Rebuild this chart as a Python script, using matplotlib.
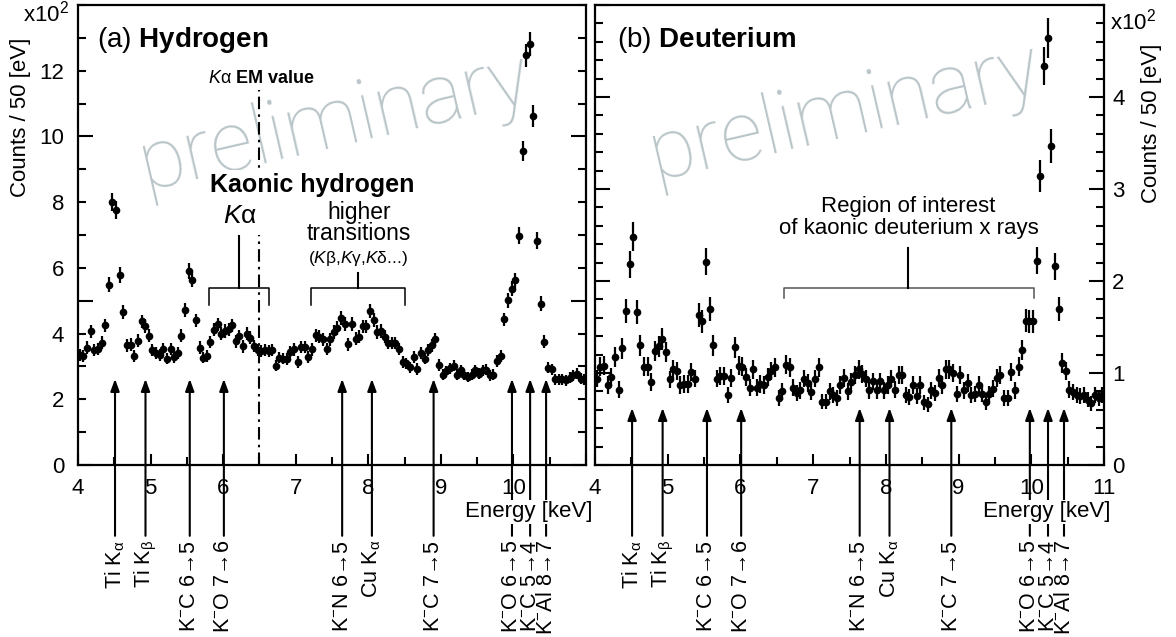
import numpy as np
import matplotlib
matplotlib.use('Agg')
import matplotlib.pyplot as plt
from matplotlib.ticker import MultipleLocator, FuncFormatter

plt.rcParams['font.family'] = ['Liberation Sans', 'DejaVu Sans']
plt.rcParams['mathtext.fontset'] = 'custom'
plt.rcParams['mathtext.rm'] = 'Liberation Sans'
plt.rcParams['mathtext.it'] = 'Liberation Sans:italic'
plt.rcParams['mathtext.bf'] = 'Liberation Sans:bold'

# 50 eV bins from 4 to 11 keV, counts in units of 100
bin_width = 0.05
energy = 4.0 + bin_width / 2 + bin_width * np.arange(140)

hydrogen = [
    3.36, 3.32, 3.57, 4.07, 3.51, 3.54, 3.72, 4.25, 5.49, 8.00,
    7.77, 5.79, 4.66, 3.64, 3.66, 3.31, 3.78, 4.37, 4.23, 3.93,
    3.49, 3.42, 3.36, 3.54, 3.24, 3.54, 3.29, 3.42, 3.93, 4.71,
    5.90, 5.64, 4.40, 3.57, 3.27, 3.31, 3.74, 4.12, 4.28, 4.00,
    4.08, 4.13, 4.25, 3.77, 3.92, 3.61, 4.00, 3.87, 3.62, 3.49,
    3.46, 3.49, 3.46, 3.51, 3.02, 3.27, 3.24, 3.22, 3.44, 3.52,
    3.14, 3.59, 3.59, 3.29, 3.52, 3.95, 3.90, 3.83, 3.54, 3.83,
    4.05, 4.17, 4.47, 4.30, 3.67, 4.30, 3.85, 3.90, 4.22, 4.22,
    4.69, 4.42, 4.05, 4.08, 3.90, 3.72, 3.71, 3.71, 3.54, 3.14,
    3.09, 2.97, 3.29, 2.92, 3.41, 3.24, 3.51, 3.64, 3.83, 3.04,
    2.75, 2.85, 2.94, 3.02, 2.75, 2.88, 2.75, 2.68, 2.75, 2.88,
    2.78, 2.88, 2.90, 2.73, 2.75, 3.16, 3.32, 4.43, 5.01, 5.36,
    5.62, 6.98, 9.55, 12.47, 12.81, 10.62, 6.82, 4.91, 3.75, 2.96,
    2.91, 2.61, 2.61, 2.61, 2.58, 2.66, 2.73, 2.78, 2.63, 2.61,
]

deuterium = [
    0.94, 1.07, 1.08, 0.87, 0.96, 1.17, 0.82, 1.27, 1.67, 2.18,
    2.48, 1.66, 1.30, 1.07, 1.07, 0.90, 1.24, 1.29, 1.37, 1.23,
    0.93, 1.04, 1.02, 0.87, 0.88, 0.88, 1.01, 0.94, 1.63, 1.56,
    2.21, 1.70, 1.30, 0.94, 0.97, 0.97, 0.76, 0.95, 1.28, 1.08,
    1.07, 0.96, 0.84, 1.04, 0.84, 0.88, 0.87, 0.96, 1.02, 1.06,
    0.73, 0.80, 1.09, 1.06, 0.84, 0.78, 0.81, 0.94, 0.89, 0.79,
    0.94, 1.06, 0.69, 0.69, 0.80, 0.76, 0.73, 0.87, 0.95, 0.80,
    0.90, 0.98, 1.04, 0.99, 0.94, 0.81, 0.91, 0.81, 0.91, 0.81,
    0.87, 0.94, 0.82, 0.98, 0.98, 0.76, 0.74, 0.87, 0.75, 0.87,
    0.68, 0.66, 0.81, 0.78, 0.95, 0.87, 1.04, 1.04, 1.00, 0.77,
    0.98, 0.81, 0.89, 0.76, 0.77, 0.87, 0.77, 0.68, 0.77, 0.83,
    0.95, 0.98, 0.73, 0.73, 1.01, 0.81, 1.07, 1.25, 1.57, 1.56,
    1.56, 2.22, 3.14, 4.34, 4.64, 3.47, 2.16, 1.70, 1.11, 1.02,
    0.82, 0.79, 0.76, 0.75, 0.76, 0.71, 0.67, 0.76, 0.73, 0.76,
]

# background / calibration lines
line_names = [r'Ti K$_{\mathrm{\alpha}}$', r'Ti K$_{\mathrm{\beta}}$', r'K$^{-}$C 6→5',
              r'K$^{-}$O 7→6', r'K$^{-}$N 6→5', r'Cu K$_{\mathrm{\alpha}}$',
              r'K$^{-}$C 7→5', r'K$^{-}$O 6→5', r'K$^{-}$C 5→4', r'K$^{-}$Al 8→7']
line_energy = [4.51, 4.93, 5.54, 6.01, 7.64, 8.05, 8.90, 9.98, 10.23, 10.45]

ka_em_value = 6.49
ka_bracket = (5.81, 6.63)
higher_bracket = (7.21, 8.50)
roi_bracket = (6.60, 10.04)

fig = plt.figure(figsize=(11.76, 6.37), dpi=100)
ax1 = fig.add_axes([78 / 1176, 172 / 637, 508 / 1176, 460 / 637])
ax2 = fig.add_axes([595 / 1176, 172 / 637, 509 / 1176, 460 / 637])

wm_color = '#b9c5c9'


def draw_panel(ax, counts, arrow_tip):
    counts = np.array(counts)
    err = np.sqrt(counts * 100) / 100
    ax.errorbar(energy, counts, yerr=err, xerr=bin_width / 2, fmt='o', ms=4.5,
                color='k', elinewidth=1.6, capsize=0, zorder=4)
    ax.set_xlim(4, 11)
    for name, e in zip(line_names, line_energy):
        ax.annotate(name, xy=(e, arrow_tip), xycoords='data',
                    xytext=(e, -0.163), textcoords=('data', 'axes fraction'),
                    rotation=90, ha='center', va='top', fontsize=15.5,
                    annotation_clip=False, zorder=3,
                    arrowprops=dict(arrowstyle='-|>,head_length=0.6,head_width=0.22',
                                    color='k', lw=1.5, shrinkA=1, shrinkB=0,
                                    mutation_scale=12))
    ax.text(1.012, -0.102, 'Energy [keV]', transform=ax.transAxes, ha='right',
            va='center', fontsize=16, zorder=10,
            bbox=dict(fc='white', ec='none', pad=1))
    ax.xaxis.set_major_locator(MultipleLocator(1))
    ax.xaxis.set_minor_locator(MultipleLocator(0.5))
    ax.tick_params(axis='x', which='major', direction='in', length=8, width=1.5,
                   labelsize=16, pad=9, top=False)
    ax.tick_params(axis='x', which='minor', direction='in', length=6, width=1.5,
                   top=False)
    for s in ax.spines.values():
        s.set_linewidth(1.6)


# (a) hydrogen
draw_panel(ax1, hydrogen, 2.62)
ax1.set_ylim(0, 14)
ax1.set_xticks(range(4, 12))
ax1.set_xticklabels(['4', '5', '6', '7', '8', '9', '10', ''])


def even_label(v, pos):
    n = int(round(v))
    return str(n) if n % 2 == 0 and n <= 12 else ''


ax1.yaxis.set_major_locator(MultipleLocator(5))
ax1.yaxis.set_minor_locator(MultipleLocator(1))
ax1.yaxis.set_major_formatter(FuncFormatter(even_label))
ax1.yaxis.set_minor_formatter(FuncFormatter(even_label))
ax1.tick_params(axis='y', which='major', direction='in', length=11, width=1.5,
                left=True, right=True, labelsize=16, pad=10)
ax1.tick_params(axis='y', which='minor', direction='in', length=6, width=1.5,
                left=True, right=True, labelsize=16, pad=10)
ax1.text(-0.113, 0.93, 'Counts / 50 [eV]', transform=ax1.transAxes, rotation=90,
         ha='center', va='top', fontsize=16)
ax1.text(-0.018, 0.982, r'x10$^2$', transform=ax1.transAxes, ha='right',
         va='center', fontsize=16)
ax1.text(0.037, 0.909, r'(a) $\mathbf{Hydrogen}$', transform=ax1.transAxes,
         ha='left', va='baseline', fontsize=20)
ax1.text(0.132, 0.60, 'preliminary', transform=ax1.transAxes, rotation=13,
         rotation_mode='anchor', ha='left', va='baseline', fontsize=60,
         family='Roboto', fontweight='light', color=wm_color, zorder=0.5)

ax1.plot([ka_em_value, ka_em_value], [0, 11.4], color='k', lw=1.5,
         ls=(0, (6, 2.5, 1.2, 2.5)), zorder=2)
ax1.text(6.53, 11.64, r'$K\mathrm{\alpha}$ EM value', ha='center', va='baseline',
         fontsize=13, fontweight='bold')
ax1.text(7.23, 8.3, 'Kaonic hydrogen', ha='center', va='baseline', fontsize=18,
         fontweight='bold', zorder=5,
         bbox=dict(fc='white', ec='none', boxstyle='square,pad=0.15'))
ax1.text(6.23, 7.57, r'$K\mathrm{\alpha}$', ha='center', va='center', fontsize=19,
         zorder=5, bbox=dict(fc='white', ec='none', boxstyle='square,pad=0.25'))
ax1.text(7.87, 7.48, 'higher', ha='center', va='baseline', fontsize=16.5, zorder=6)
ax1.text(7.87, 6.84, 'transitions', ha='center', va='baseline', fontsize=16.5,
         zorder=6)
ax1.text(7.86, 6.28, r'($K\mathrm{\beta}$,$K\mathrm{\gamma}$,$K\mathrm{\delta}$...)',
         ha='center', va='center', fontsize=12.5)
for (lo, hi), stem_top in [(ka_bracket, 7.14), (higher_bracket, 5.85)]:
    ax1.plot([lo, lo, hi, hi], [4.88, 5.38, 5.38, 4.88], color='k', lw=1.1)
    ax1.plot([(lo + hi) / 2] * 2, [5.38, stem_top], color='k', lw=1.5)

# (b) deuterium
draw_panel(ax2, deuterium, 0.62)
ax2.set_ylim(0, 5)
ax2.yaxis.set_major_locator(MultipleLocator(1))
ax2.yaxis.set_minor_locator(MultipleLocator(0.2))
ax2.yaxis.set_major_formatter(FuncFormatter(lambda v, p: '%d' % round(v) if v < 4.5 else ''))
ax2.tick_params(axis='y', which='major', direction='in', length=11, width=1.5,
                left=True, right=True, labelleft=False, labelright=True,
                labelsize=16, pad=6)
ax2.tick_params(axis='y', which='minor', direction='in', length=6, width=1.5,
                left=True, right=True)
ax2.text(1.094, 0.917, 'Counts / 50 [eV]', transform=ax2.transAxes, rotation=90,
         ha='center', va='top', fontsize=16)
ax2.text(1.012, 0.963, r'x10$^2$', transform=ax2.transAxes, ha='left',
         va='center', fontsize=16)
ax2.text(0.043, 0.909, r'(b) $\mathbf{Deuterium}$', transform=ax2.transAxes,
         ha='left', va='baseline', fontsize=20)
ax2.text(0.118, 0.62, 'preliminary', transform=ax2.transAxes, rotation=13,
         rotation_mode='anchor', ha='left', va='baseline', fontsize=60,
         family='Roboto', fontweight='light', color=wm_color, zorder=0.5)

lo, hi = roi_bracket
ax2.plot([lo, lo, hi, hi], [1.82, 1.92, 1.92, 1.82], color='#555555', lw=1.1)
ax2.plot([8.31, 8.31], [1.92, 2.36], color='k', lw=1.5)
ax2.text(8.31, 2.51, 'Region of interest\nof kaonic deuterium x rays', ha='center',
         va='baseline', fontsize=16, linespacing=1.05)

fig.savefig('out.png', dpi=100)
